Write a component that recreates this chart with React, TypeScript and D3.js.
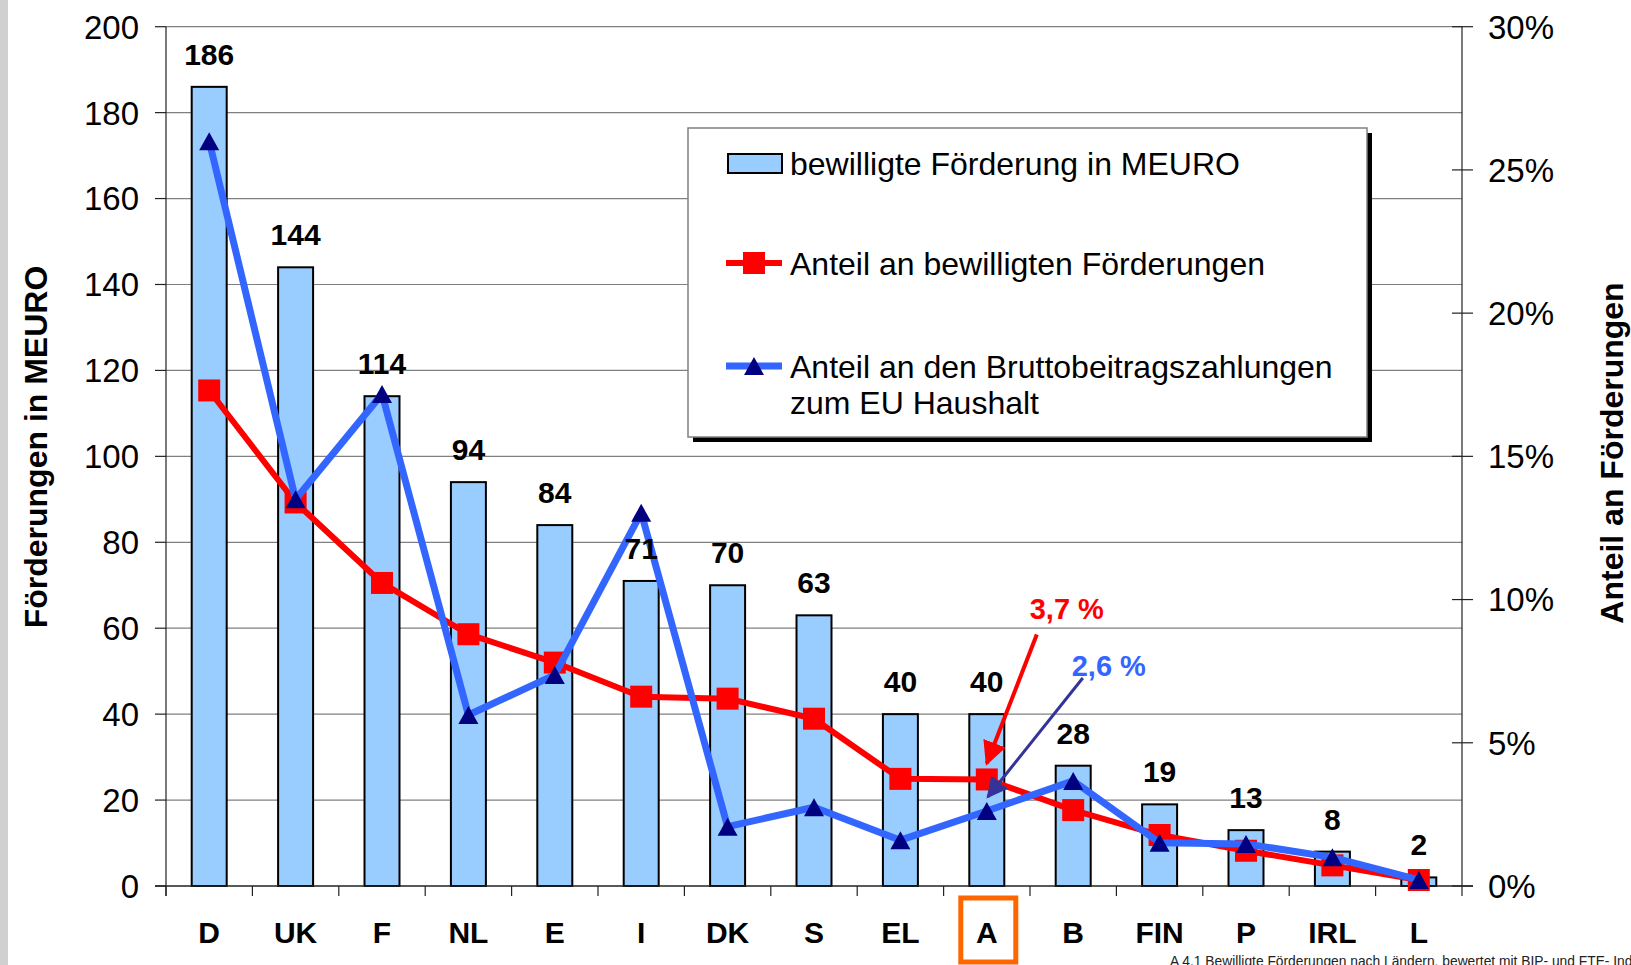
import React from "react";
import * as d3 from "d3";

const categories = ["D", "UK", "F", "NL", "E", "I", "DK", "S", "EL", "A", "B", "FIN", "P", "IRL", "L"];
const funding = [186, 144, 114, 94, 84, 71, 70, 63, 40, 40, 28, 19, 13, 8, 2];
const shareFunding = [17.3, 13.39, 10.58, 8.79, 7.8, 6.61, 6.54, 5.84, 3.74, 3.72, 2.65, 1.78, 1.23, 0.72, 0.21];
const shareContrib = [26.0, 13.5, 17.18, 5.97, 7.37, 13.03, 2.07, 2.75, 1.6, 2.62, 3.67, 1.51, 1.47, 1.0, 0.21];
const leftTicks = [0, 20, 40, 60, 80, 100, 120, 140, 160, 180, 200];
const rightTicks = [0, 5, 10, 15, 20, 25, 30];

const W = 1631;
const H = 965;
const FONT = "'Liberation Sans', Arial, Helvetica, sans-serif";

export default function App() {
  const x0 = 166, x1 = 1462, yTop = 26.7, yBot = 886;
  const x = d3.scaleBand<string>().domain(categories).range([x0, x1]).padding(0);
  const yL = d3.scaleLinear().domain([0, 200]).range([yBot, yTop]);
  const yR = d3.scaleLinear().domain([0, 30]).range([yBot, yTop]);
  const bw = x.bandwidth() * 0.405;
  const cx = (c: string) => (x(c) as number) + x.bandwidth() / 2;

  const line = d3.line<number>().x((_, i) => cx(categories[i])).y((d) => yR(d));
  const redPath = line(shareFunding) as string;
  const bluePath = line(shareContrib) as string;

  const tri = (px: number, py: number, s = 20, h = 18) =>
    `M${px},${py - h / 2} L${px + s / 2},${py + h / 2} L${px - s / 2},${py + h / 2} Z`;

  const iA = categories.indexOf("A");
  const ax = cx("A");
  const ayRed = yR(shareFunding[iA]);
  const ayBlue = yR(shareContrib[iA]);

  return (
    <svg width={W} height={H} style={{ position: "absolute", left: 0, top: 0, background: "#fff" }} fontFamily={FONT}>
      <defs>
        <marker id="arrRed" viewBox="0 0 10 10" refX="9" refY="5" markerWidth="6" markerHeight="6" markerUnits="strokeWidth" orient="auto">
          <path d="M0,0 L10,5 L0,10 Z" fill="#ff0000" />
        </marker>
        <marker id="arrNavy" viewBox="0 0 10 10" refX="9" refY="5" markerWidth="7" markerHeight="7" markerUnits="strokeWidth" orient="auto">
          <path d="M0,0 L10,5 L0,10 Z" fill="#333399" />
        </marker>
      </defs>
      <rect x={0} y={0} width={W} height={H} fill="#fff" />
      <rect x={0} y={0} width={8} height={H} fill="#d0d0d0" />

      {/* gridlines */}
      {leftTicks.filter((t) => t > 0).map((t) => (
        <line key={"g" + t} x1={x0} x2={x1} y1={yL(t)} y2={yL(t)} stroke="#808080" strokeWidth={1.2} />
      ))}

      {/* left axis */}
      <line x1={x0} x2={x0} y1={yTop} y2={yBot + 10} stroke="#222" strokeWidth={1.2} />
      {leftTicks.map((t) => (
        <g key={"l" + t}>
          <line x1={x0 - 11} x2={x0} y1={yL(t)} y2={yL(t)} stroke="#222" strokeWidth={1.2} />
          <text x={139} y={yL(t)} dy="0.36em" textAnchor="end" fontSize={33} fill="#000">{t}</text>
        </g>
      ))}

      {/* right axis */}
      <line x1={x1} x2={x1} y1={yTop} y2={yBot} stroke="#222" strokeWidth={1.2} />
      {rightTicks.map((t) => (
        <g key={"r" + t}>
          <line x1={x1 - 10} x2={x1 + 11} y1={yR(t)} y2={yR(t)} stroke="#222" strokeWidth={1.2} />
          <text x={1488} y={yR(t)} dy="0.36em" textAnchor="start" fontSize={33} fill="#000">{t}%</text>
        </g>
      ))}

      {/* bars */}
      {categories.map((c, i) => (
        <rect key={"b" + c} x={cx(c) - bw / 2} y={yL(funding[i])} width={bw} height={yBot - yL(funding[i])}
          fill="#99ccff" stroke="#000" strokeWidth={2} />
      ))}

      {/* x axis */}
      <line x1={x0 - 11} x2={x1 + 11} y1={yBot} y2={yBot} stroke="#222" strokeWidth={1.5} />
      {categories.map((c) => (
        <line key={"xt" + c} x1={x(c) as number} x2={x(c) as number} y1={yBot} y2={yBot + 10} stroke="#222" strokeWidth={1.2} />
      ))}
      <line x1={x1} x2={x1} y1={yBot} y2={yBot + 10} stroke="#222" strokeWidth={1.2} />
      {categories.map((c) => (
        <text key={"xl" + c} x={cx(c)} y={943} textAnchor="middle" fontSize={30} fontWeight="bold" fill="#000">{c}</text>
      ))}

      {/* red line */}
      <path d={redPath} fill="none" stroke="#ff0000" strokeWidth={6} strokeLinejoin="round" />
      {shareFunding.map((v, i) => (
        <rect key={"rm" + i} x={cx(categories[i]) - 11} y={yR(v) - 11} width={22} height={22} fill="#ff0000" />
      ))}

      {/* blue line */}
      <path d={bluePath} fill="none" stroke="#3366ff" strokeWidth={7} strokeLinejoin="round" />
      {shareContrib.map((v, i) => (
        <path key={"bm" + i} d={tri(cx(categories[i]), yR(v))} fill="#000080" />
      ))}

      {/* value labels */}
      {categories.map((c, i) => (
        <text key={"v" + c} x={cx(c)} y={yL(funding[i]) - 22} textAnchor="middle" fontSize={30} fontWeight="bold" fill="#000">{funding[i]}</text>
      ))}

      {/* annotations */}
      <line x1={ax + 50} y1={ayRed - 145} x2={ax} y2={ayRed - 16} stroke="#ff0000" strokeWidth={4} markerEnd="url(#arrRed)" />
      <text x={ax + 80} y={ayRed - 160} textAnchor="middle" fontSize={29} fontWeight="bold" fill="#ff0000">3,7 %</text>
      <line x1={ax + 96} y1={ayBlue - 133} x2={ax + 1} y2={ayBlue - 14} stroke="#333399" strokeWidth={3} markerEnd="url(#arrNavy)" />
      <text x={ax + 122} y={ayBlue - 135} textAnchor="middle" fontSize={29} fontWeight="bold" fill="#3366ff">2,6 %</text>
      <rect x={ax - 26} y={898} width={55} height={64} fill="none" stroke="#ff6600" strokeWidth={5} />

      {/* axis titles */}
      <text transform={`translate(47,447) rotate(-90)`} textAnchor="middle" fontSize={32} fontWeight="bold" fill="#000">Förderungen in MEURO</text>
      <text transform={`translate(1623,453) rotate(-90)`} textAnchor="middle" fontSize={32} fontWeight="bold" fill="#000">Anteil an Förderungen</text>

      {/* legend */}
      <rect x={693} y={133} width={679} height={309} fill="#000" />
      <rect x={688} y={128} width={679} height={309} fill="#fff" stroke="#808080" strokeWidth={1.5} />
      <rect x={728} y={154} width={54} height={19} fill="#99ccff" stroke="#000" strokeWidth={2} />
      <text x={790} y={163} dy="0.36em" fontSize={32} fill="#000">bewilligte Förderung in MEURO</text>
      <line x1={726} x2={782} y1={263} y2={263} stroke="#ff0000" strokeWidth={6} />
      <rect x={743} y={252} width={22} height={22} fill="#ff0000" />
      <text x={790} y={263} dy="0.36em" fontSize={32} fill="#000">Anteil an bewilligten Förderungen</text>
      <line x1={726} x2={782} y1={366} y2={366} stroke="#3366ff" strokeWidth={7} />
      <path d={tri(754, 366)} fill="#000080" />
      <text x={790} y={366} dy="0.36em" fontSize={32} fill="#000">Anteil an den Bruttobeitragszahlungen</text>
      <text x={790} y={402} dy="0.36em" fontSize={32} fill="#000">zum EU Haushalt</text>

      {/* caption */}
      <text x={1170} y={966} fontSize={13.8} fill="#222">A 4.1 Bewilligte Förderungen nach Ländern, bewertet mit BIP- und FTE- Indexen</text>
    </svg>
  );
}
